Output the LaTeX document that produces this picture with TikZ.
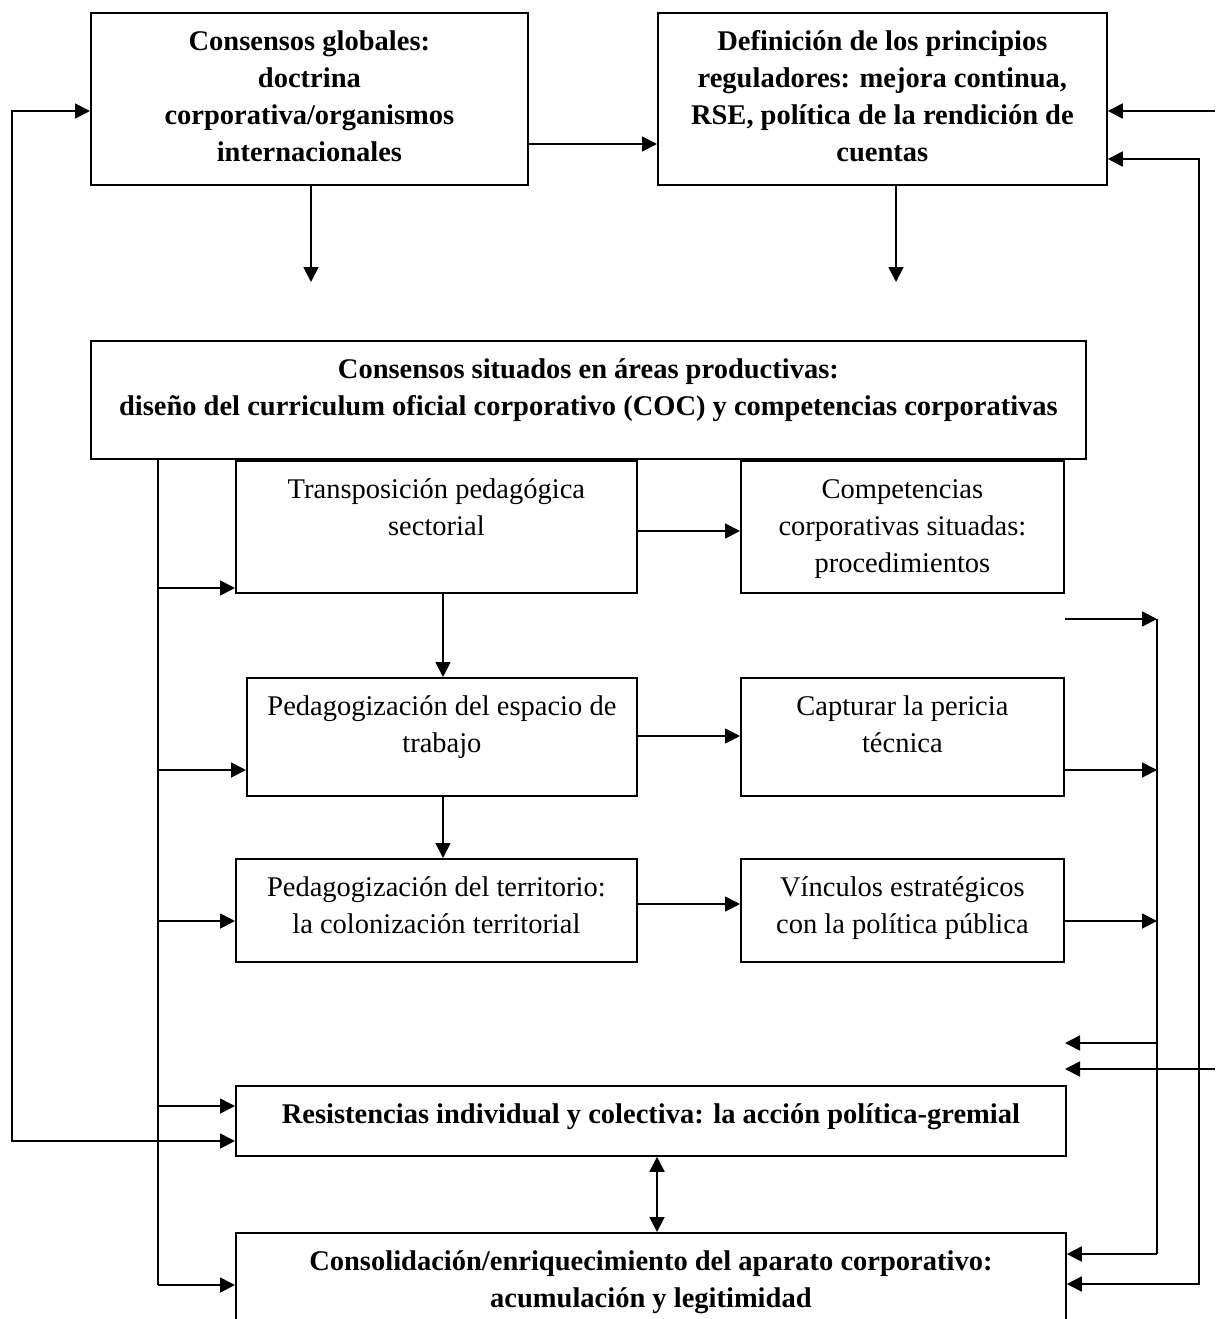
\documentclass[tikz,border=0pt]{standalone}
\usepackage{fontspec}
\setmainfont{Liberation Serif}
\usetikzlibrary{arrows.meta}

\newcommand{\cajatexto}[3]{\parbox[c][#1pt][t]{#2pt}{\fontsize{28.5}{37}\selectfont\centering\vspace*{12pt}\strut#3}}

\begin{document}
\begin{tikzpicture}[x=1pt,y=-1pt,
   caja/.style={draw,line width=1.8pt,inner sep=0pt,anchor=north west},
   flecha/.style={-{Triangle[length=15pt,width=15pt]},line width=1.8pt},
   doble/.style={{Triangle[length=15pt,width=15pt]}-{Triangle[length=15pt,width=15pt]},line width=1.8pt}]
   \useasboundingbox (0,0) rectangle (1215,1319);
   \foreach \pos/\name/\w/\h/\txt in {
      {(90,12)/a/437/172/{\bfseries Consensos globales:\\doctrina\\corporativa/organismos\\internacionales}},
      {(657,12)/b/449/172/{\bfseries Definición de los principios\\reguladores: mejora continua,\\RSE, política de la rendición de\\cuentas}},
      {(90,340)/c/995/118/{\bfseries Consensos situados en áreas productivas:\\diseño del curriculum oficial corporativo (COC) y competencias corporativas}},
      {(235,460)/d/401/132/{Transposición pedagógica\\sectorial}},
      {(740,460)/e/323/132/{Competencias\\corporativas situadas:\\procedimientos}},
      {(246,677)/f/390/118/{Pedagogización del espacio de\\trabajo}},
      {(740,677)/h/323/118/{Capturar la pericia\\técnica}},
      {(235,858)/g/401/103/{Pedagogización del territorio:\\la colonización territorial}},
      {(740,858)/i/323/103/{Vínculos estratégicos\\con la política pública}},
      {(235,1085)/j/830/70/{\bfseries Resistencias individual y colectiva: la acción política-gremial}},
      {(235,1232)/k/830/120/{\bfseries Consolidación/enriquecimiento del aparato corporativo:\\acumulación y legitimidad}}}
   \node[caja] (\name) at \pos {\cajatexto{\h}{\w}{\txt}};
   % extremos libres
   \coordinate (libre1) at (1065,619);
   \coordinate (libre2) at (1065,1043);
   \coordinate (libre3) at (1065,1069);
   \coordinate (bordeA) at (1215,111);
   \coordinate (bordeB) at (1215,1069);
   % parte superior
   \draw[flecha] (a.east |- 0,144) -- (b.west |- 0,144);
   \draw[flecha] (a.south -| 311,0) -- (311,282);
   \draw[flecha] (b.south -| 896,0) -- (896,282);
   \draw[doble] (a.west |- 0,111) -| (12,1141) -- (j.west |- 0,1141);
   \draw[flecha] (bordeA) -- (b.east |- 0,111);
   \draw[doble] (b.east |- 0,159) -| (1199,1284) -- (k.east |- 0,1284);
   % columna central
   \draw[flecha] (d.east |- 0,531) -- (e.west |- 0,531);
   \draw[flecha] (d.south -| 443,0) -- (f.north -| 443,0);
   \draw[flecha] (f.east |- 0,736) -- (h.west |- 0,736);
   \draw[flecha] (f.south -| 443,0) -- (g.north -| 443,0);
   \draw[flecha] (g.east |- 0,904) -- (i.west |- 0,904);
   \draw[doble] (j.south -| 657,0) -- (k.north -| 657,0);
   % eje izquierdo
   \draw[line width=1.8pt] (c.south -| 158,0) -- (158,1285);
   \foreach \y/\dest in {588/d, 770/f, 921/g, 1106/j, 1285/k} % flechas del eje
   \draw[flecha] (158,\y) -- (\dest.west |- 0,\y);
   % eje derecho
   \draw[line width=1.8pt] (1157,619) -- (1157,1254);
   \draw[flecha] (libre1) -- (1157,619);
   \foreach \src/\y in {h/770, i/921}
   \draw[flecha] (\src.east |- 0,\y) -- (1157,\y);
   \draw[flecha] (1157,1043) -- (libre2);
   \draw[flecha] (1157,1254) -- (k.east |- 0,1254);
   \draw[flecha] (bordeB) -- (libre3);
\end{tikzpicture}
\end{document}
